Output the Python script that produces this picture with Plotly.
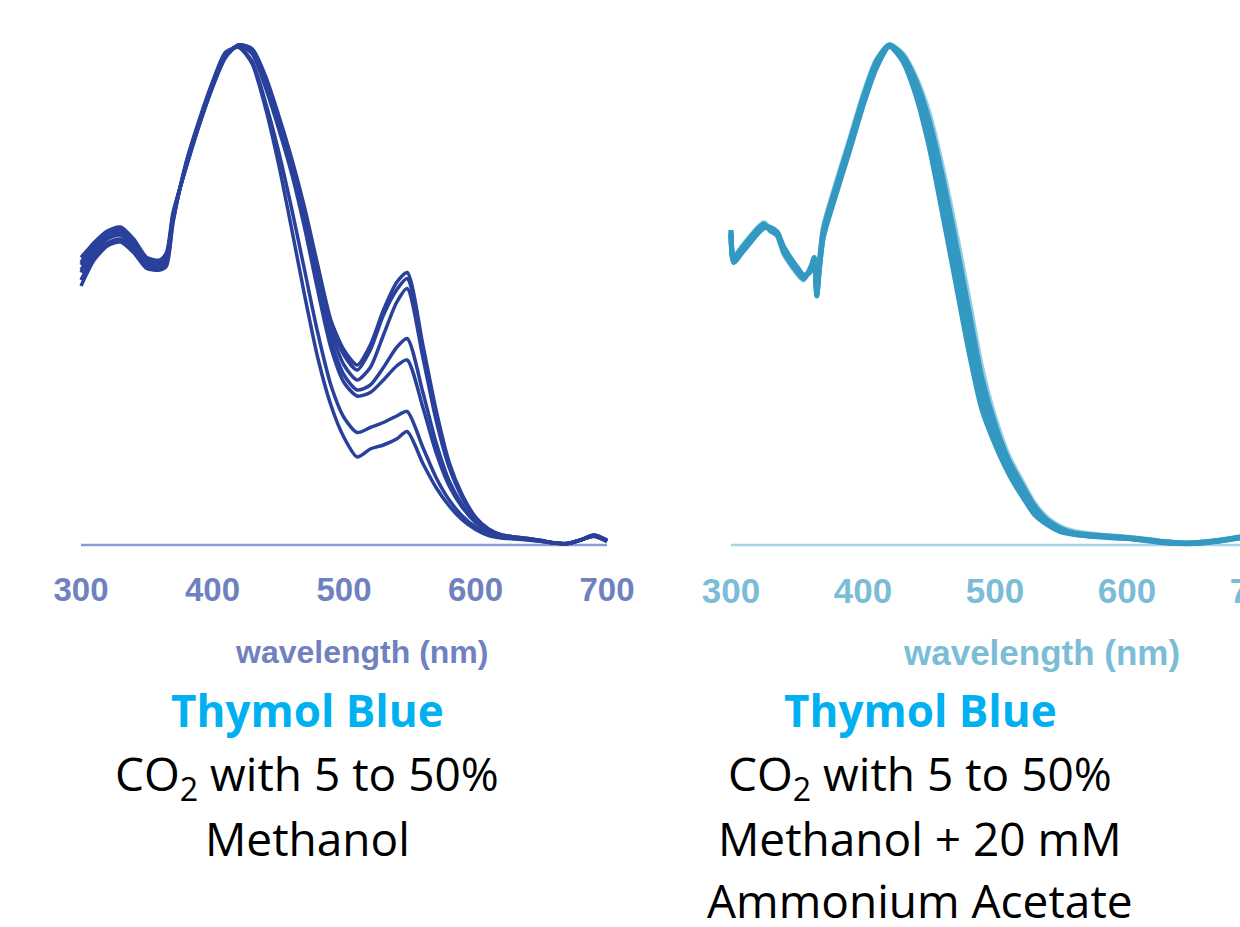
import plotly.graph_objects as go

# ---------------- data ----------------
WL_L = [300, 305, 310, 320, 330, 340, 350, 360, 365, 370, 380, 390, 400, 410, 420,
        430, 440, 450, 460, 470, 480, 490, 500, 510, 520, 530, 540, 548, 560, 570,
        580, 590, 600, 610, 620, 630, 640, 650, 660, 670, 680, 690, 700]

L_A = [.575, .59, .605, .628, .636, .612, .575, .57, .585, .665, .755, .84, .915, .975, 1.0,
       .993, .94, .862, .775, .675, .56, .45, .39, .36, .40, .47, .525, .545, .40, .27,
       .165, .10, .056, .032, .02, .016, .013, .009, .004, .003, .01, .02, .01]
L_B = [.565, .585, .60, .625, .632, .61, .572, .568, .58, .66, .757, .842, .917, .977, 1.0,
       .992, .935, .857, .77, .67, .555, .445, .38, .35, .39, .46, .51, .533, .39, .262,
       .16, .097, .055, .031, .02, .016, .013, .009, .004, .003, .01, .02, .01]
L_C = [.56, .58, .598, .622, .63, .606, .57, .565, .578, .658, .758, .843, .918, .978, 1.0,
       .988, .928, .85, .76, .66, .54, .43, .36, .33, .355, .42, .485, .513, .375, .25,
       .155, .094, .053, .03, .019, .015, .012, .009, .004, .003, .01, .019, .009]
L_D = [.55, .572, .592, .615, .624, .60, .565, .562, .575, .655, .76, .845, .92, .98, .999,
       .987, .922, .84, .75, .645, .52, .41, .34, .31, .32, .355, .395, .413, .305, .205,
       .128, .08, .047, .027, .018, .014, .012, .008, .004, .003, .01, .019, .008]
L_E = [.545, .568, .588, .612, .62, .596, .562, .56, .572, .652, .762, .847, .922, .982, .998,
       .983, .917, .835, .745, .635, .51, .395, .325, .298, .305, .33, .358, .37, .275, .185,
       .118, .075, .045, .026, .017, .014, .011, .008, .004, .003, .01, .018, .008]
L_F = [.53, .556, .578, .604, .612, .59, .558, .556, .565, .648, .764, .849, .924, .984, .996,
       .968, .888, .79, .675, .55, .425, .32, .255, .225, .235, .245, .258, .267, .195, .135,
       .09, .058, .036, .022, .015, .013, .011, .008, .004, .003, .01, .018, .007]
L_G = [.518, .546, .57, .598, .606, .585, .553, .55, .558, .645, .766, .851, .926, .986, .995,
       .963, .877, .765, .635, .50, .375, .28, .215, .176, .192, .20, .212, .227, .163, .115,
       .078, .05, .031, .019, .014, .012, .01, .007, .004, .003, .01, .017, .007]
LEFT_SERIES = [L_A, L_B, L_C, L_D, L_E, L_F, L_G]

WL_R = [300, 302, 310, 320, 325, 330, 335, 340, 350, 355, 360, 363, 365, 367, 370,
        380, 390, 400, 410, 420, 430, 440, 450, 460, 470, 480, 490, 500, 510, 520,
        530, 540, 550, 560, 570, 580, 590, 600, 610, 620, 630, 640, 650, 660, 670,
        680, 690, 700]

R_1 = [.63, .57, .595, .628, .64, .632, .625, .59, .55, .535, .55, .575, .50, .56, .625,
       .715, .80, .888, .962, 1.0, .975, .92, .83, .71, .578, .44, .31, .226, .161, .114,
       .071, .046, .030, .023, .020, .018, .016, .015, .012, .009, .006, .004, .004, .006, .009,
       .013, .017, .02]
R_2 = [.625, .575, .60, .632, .642, .628, .62, .585, .546, .532, .552, .57, .51, .565, .632,
       .722, .808, .895, .967, 1.0, .98, .93, .85, .74, .61, .472, .335, .242, .172, .123,
       .078, .049, .033, .024, .021, .019, .017, .015, .012, .009, .006, .004, .004, .006, .009,
       .013, .017, .02]
R_3 = [.62, .565, .592, .625, .636, .635, .622, .594, .553, .538, .548, .572, .505, .555, .62,
       .71, .795, .882, .957, .998, .97, .908, .81, .684, .55, .412, .29, .213, .152, .107,
       .065, .043, .028, .022, .019, .017, .015, .014, .011, .008, .005, .003, .003, .005, .008,
       .012, .016, .019]
R_4 = [.628, .578, .603, .634, .645, .63, .618, .582, .543, .53, .555, .568, .515, .568, .636,
       .728, .813, .9, .97, 1.0, .983, .936, .865, .758, .632, .495, .355, .255, .18, .13,
       .083, .053, .036, .027, .023, .02, .018, .016, .013, .01, .007, .005, .005, .007, .01,
       .014, .018, .021]
R_5 = [.622, .568, .59, .622, .634, .634, .626, .596, .556, .54, .546, .574, .498, .552, .616,
       .705, .79, .878, .953, .997, .968, .9, .798, .666, .528, .39, .272, .202, .145, .1,
       .061, .04, .026, .021, .018, .016, .014, .013, .01, .007, .004, .003, .003, .005, .008,
       .012, .016, .019]
RIGHT_DARK = [R_2, R_3, R_5, R_1]
RIGHT_LIGHT = [R_4]

TICK_VALS = [300, 400, 500, 600, 700]
TICK_LABELS = ["300", "400", "500", "600", "700"]
AXIS_TITLE = "wavelength (nm)"
LEFT_TEXT = ["Thymol Blue", "CO<sub>2</sub> with 5 to 50%", "Methanol"]
RIGHT_TEXT = ["Thymol Blue", "CO<sub>2</sub> with 5 to 50%", "Methanol + 20 mM", "Ammonium Acetate"]

# ---------------- styling ----------------
W, H = 1280, 927
LEFT_LINE = "#2A419C"
RIGHT_LINE = "#3399C2"
RIGHT_FRINGE = "#93CDE2"
LEFT_BASE = "#8E9BD2"
RIGHT_BASE = "#A3D4E7"
LEFT_TICK = "#7081C0"
RIGHT_TICK = "#7BBDD7"
TITLE_BLUE = "#00B0F0"
TICK_FONT = "Liberation Sans, Arial, sans-serif"
BODY_FONT = "Open Sans, Noto Sans, sans-serif"


def px_x(p):
    return p / W


def px_y(p):
    return 1 - p / H


fig = go.Figure()

for s in LEFT_SERIES:
    fig.add_trace(go.Scatter(x=WL_L, y=s, mode="lines", xaxis="x", yaxis="y",
                             line=dict(color=LEFT_LINE, width=3.5, shape="spline", smoothing=0.7),
                             hoverinfo="skip", showlegend=False))
for s in RIGHT_LIGHT:
    fig.add_trace(go.Scatter(x=WL_R, y=s, mode="lines", xaxis="x2", yaxis="y2",
                             line=dict(color=RIGHT_FRINGE, width=5, shape="spline", smoothing=0.7),
                             hoverinfo="skip", showlegend=False))
for s in RIGHT_DARK:
    fig.add_trace(go.Scatter(x=WL_R, y=s, mode="lines", xaxis="x2", yaxis="y2",
                             line=dict(color=RIGHT_LINE, width=5, shape="spline", smoothing=0.7),
                             hoverinfo="skip", showlegend=False))

# left: 300 nm at 81 px, 700 nm at 607 px ; right: 300 at 731, 600 at 1127
lx0, lx1 = 75, 615
ppn_l = (607 - 81) / 400
rx0, rx1 = 725, 1280
ppn_r = (1127 - 731) / 300
y_top, y_bot = 20, 560
ppv = 500.0  # pixels per absorbance unit (0 at 545 px, 1 at 45 px)

xl_range = [300 - (81 - lx0) / ppn_l, 700 + (lx1 - 607) / ppn_l]
xr_range = [300 - (731 - rx0) / ppn_r, 300 + (rx1 - 731) / ppn_r]
y_range = [-(y_bot - 545) / ppv, (545 - y_top) / ppv]

common_x = dict(showgrid=False, zeroline=False, showline=False, ticks="outside", ticklen=0,
                tickcolor="rgba(0,0,0,0)", automargin=False, ticklabeloverflow="allow",
                tickvals=TICK_VALS, ticktext=TICK_LABELS)

fig.update_layout(
    template="none",
    width=W, height=H, margin=dict(l=0, r=0, t=0, b=0, pad=0, autoexpand=False),
    paper_bgcolor="white", plot_bgcolor="white", showlegend=False,
    xaxis=dict(domain=[px_x(lx0), px_x(lx1)], range=xl_range, anchor="y",
               tickfont=dict(family=TICK_FONT, size=33, color=LEFT_TICK, weight="bold"), **common_x),
    yaxis=dict(domain=[px_y(y_bot), px_y(y_top)], range=y_range, visible=False, automargin=False),
    xaxis2=dict(domain=[px_x(rx0), px_x(rx1)], range=xr_range, anchor="y2",
                tickfont=dict(family=TICK_FONT, size=35, color=RIGHT_TICK, weight="bold"), **common_x),
    yaxis2=dict(domain=[px_y(y_bot), px_y(y_top)], range=y_range, visible=False, anchor="x2",
                automargin=False),
)

# baselines at absorbance 0
fig.add_shape(type="line", xref="x", yref="y", x0=300, x1=700, y0=0, y1=0,
              line=dict(color=LEFT_BASE, width=2.5), layer="below")
fig.add_shape(type="line", xref="x2", yref="y2", x0=300, x1=xr_range[1], y0=0, y1=0,
              line=dict(color=RIGHT_BASE, width=2.5), layer="below")

# axis titles
fig.add_annotation(text=AXIS_TITLE, x=px_x(361), y=px_y(652), xref="paper", yref="paper",
                   showarrow=False, xanchor="center", yanchor="middle",
                   font=dict(family=TICK_FONT, size=32, color=LEFT_TICK, weight="bold"))
fig.add_annotation(text=AXIS_TITLE, x=px_x(1041), y=px_y(652), xref="paper", yref="paper",
                   showarrow=False, xanchor="center", yanchor="middle",
                   font=dict(family=TICK_FONT, size=35, color=RIGHT_TICK, weight="bold"))

# captions
line_centers = [710, 776, 838, 900]
for cx, lines in [(307, LEFT_TEXT), (920, RIGHT_TEXT)]:
    for i, t in enumerate(lines):
        fig.add_annotation(text=t, x=px_x(cx), y=px_y(line_centers[i]), xref="paper", yref="paper",
                           showarrow=False, xanchor="center", yanchor="middle",
                           font=dict(family=BODY_FONT, size=44 if i == 0 else 46,
                                     color=TITLE_BLUE if i == 0 else "black",
                                     weight="bold" if i == 0 else "normal"))

fig.write_html("out.html", config={"displayModeBar": False},
               post_script="document.body.style.margin='0';document.body.style.overflow='hidden';")
